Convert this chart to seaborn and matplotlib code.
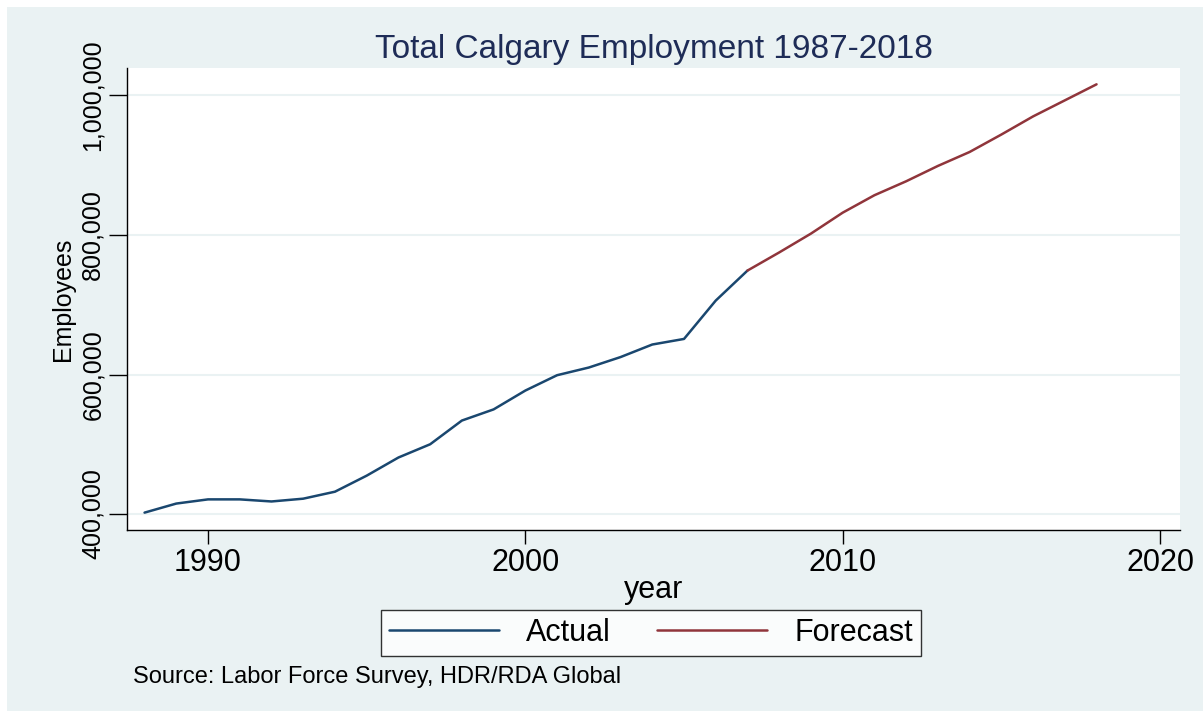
import matplotlib
matplotlib.use("Agg")
import matplotlib.pyplot as plt
import matplotlib.patches as mpatches
import matplotlib.ticker as mticker
import seaborn as sns
import pandas as pd

actual_years = list(range(1988, 2008))
actual_values = [402000, 415000, 421000, 421000, 418000, 422000, 432000, 455000,
                 481000, 500000, 534000, 550000, 577000, 599000, 610000, 625000,
                 643000, 651000, 706000, 749000]
forecast_years = list(range(2007, 2019))
forecast_values = [749000, 775000, 802000, 832000, 857000, 877000, 899000,
                   919000, 944000, 970000, 993000, 1016000]
series_names = ["Actual", "Forecast"]
x_ticks = [1990, 2000, 2010, 2020]
y_ticks = [400000, 600000, 800000, 1000000]
title = "Total Calgary Employment 1987-2018"
source_note = "Source: Labor Force Survey, HDR/RDA Global"

df = pd.concat([
    pd.DataFrame({"year": actual_years, "Employees": actual_values, "series": series_names[0]}),
    pd.DataFrame({"year": forecast_years, "Employees": forecast_values, "series": series_names[1]}),
], ignore_index=True)

sns.set_theme(style="white")
plt.rcParams["font.family"] = ["Liberation Sans", "DejaVu Sans"]
plt.rcParams["text.color"] = "black"
plt.rcParams["axes.labelcolor"] = "black"
plt.rcParams["xtick.color"] = "black"
plt.rcParams["ytick.color"] = "black"

BG = "#EAF2F3"
fig = plt.figure(figsize=(12.03, 7.11), dpi=100, facecolor="white")
fig.patches.append(mpatches.Rectangle((7 / 1203, 0), 1 - 7 / 1203, 1 - 7 / 711,
                                      transform=fig.transFigure, facecolor=BG,
                                      edgecolor="none", zorder=-10))
ax = fig.add_axes([127 / 1203, 1 - 530 / 711, (1180 - 127) / 1203, (530 - 68) / 711])
ax.set_facecolor("white")

sns.lineplot(data=df, x="year", y="Employees", hue="series", ax=ax,
             palette={"Actual": "#1A476F", "Forecast": "#90353B"},
             linewidth=1.8, legend=False)

ax.set_xlim(1987.447, 2020.63)
ax.set_ylim(377100, 1039400)
ax.set_xticks(x_ticks)
ax.set_yticks(y_ticks)
ax.yaxis.set_major_formatter(mticker.FuncFormatter(lambda v, p: f"{int(v):,}"))
ax.grid(axis="y", color=BG, linewidth=1.5)
ax.grid(axis="x", visible=False)
for s in ["top", "right"]:
    ax.spines[s].set_visible(False)
for s in ["left", "bottom"]:
    ax.spines[s].set_color("black")
    ax.spines[s].set_linewidth(1.0)
ax.tick_params(axis="x", length=10, width=1, color="black", labelsize=22, pad=3, bottom=True,
               labelcolor="black")
ax.tick_params(axis="y", length=13, width=1, color="black", labelsize=18, pad=3, left=True,
               labelcolor="black")
for lab in ax.get_yticklabels():
    lab.set_rotation(90)
    lab.set_va("center")
ax.set_xlabel("year", fontsize=22, labelpad=-2, color="black")
ax.set_ylabel("Employees", fontsize=18, labelpad=4, color="black")
ax.set_title(title, fontsize=24, color="#1E2C57", pad=7)

handles = [plt.Line2D([], [], color="#1A476F", linewidth=1.8),
           plt.Line2D([], [], color="#90353B", linewidth=1.8)]
leg = fig.legend(handles, series_names, loc="center", bbox_to_anchor=(651 / 1203, 1 - 633 / 711),
                 ncol=2, fontsize=22, frameon=True, fancybox=False, edgecolor="black",
                 handlelength=3.6, columnspacing=1.5, borderpad=0.25, handletextpad=0.9)
leg.get_frame().set_linewidth(1.0)
leg.get_frame().set_facecolor("white")
for t in leg.get_texts():
    t.set_color("black")

fig.text(133 / 1203, 1 - 677 / 711, source_note, fontsize=17, va="center", ha="left", color="black")

fig.savefig("out.png", dpi=100, facecolor=fig.get_facecolor())
